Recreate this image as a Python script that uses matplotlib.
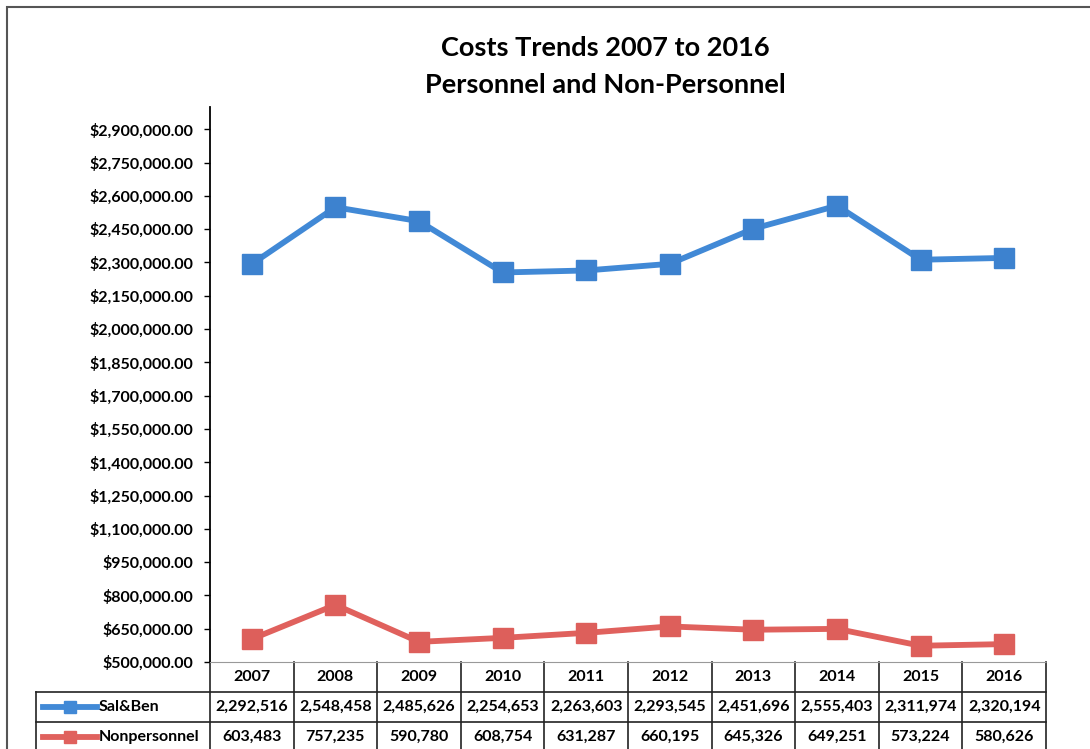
import matplotlib.pyplot as plt
from matplotlib.lines import Line2D
from matplotlib.patches import Rectangle
from matplotlib.ticker import FuncFormatter
import matplotlib.transforms as mtransforms

plt.rcParams["font.family"] = ["Lato", "DejaVu Sans"]
plt.rcParams["font.weight"] = "bold"

years = ["2007", "2008", "2009", "2010", "2011", "2012", "2013", "2014", "2015", "2016"]
sal_ben = [2292516, 2548458, 2485626, 2254653, 2263603, 2293545, 2451696, 2555403, 2311974, 2320194]
nonpersonnel = [603483, 757235, 590780, 608754, 631287, 660195, 645326, 649251, 573224, 580626]
series_names = ["Sal&Ben", "Nonpersonnel"]

blue = "#4189d6"
red = "#e0615d"

W, H = 1090, 749
fig = plt.figure(figsize=(W / 100, H / 100), dpi=100)

# axes placed in pixel terms
ax_l, ax_r, ax_t, ax_b = 210, 1046, 107, 662
ax = fig.add_axes([ax_l / W, 1 - ax_b / H, (ax_r - ax_l) / W, (ax_b - ax_t) / H])

x = list(range(len(years)))
ax.plot(x, sal_ben, color=blue, lw=4.2, marker="s", ms=14, mfc="#3d82cf", mec="#3d82cf")
ax.plot(x, nonpersonnel, color=red, lw=4.2, marker="s", ms=14, mfc="#dd5f5b", mec="#dd5f5b")

ax.set_xlim(-0.5, len(years) - 0.5)
ax.set_ylim(500000, 3000000)
ax.set_yticks(range(500000, 2900001, 150000))
ax.yaxis.set_major_formatter(FuncFormatter(lambda v, p: "${:,.2f}".format(v)))
ax.tick_params(axis="y", direction="out", length=4, width=1, pad=8, labelsize=11.5)
ax.set_xticks([])
for s in ["top", "right"]:
    ax.spines[s].set_visible(False)
ax.spines["left"].set_linewidth(1.3)
ax.spines["bottom"].set_color("#999999")
ax.spines["bottom"].set_linestyle((0, (2, 1)))

# data table under the axes: x in data units, y in pixels below the axes
px_h = ax_b - ax_t
def ypx(py):
    return (ax_b - py) / px_h

trans = mtransforms.blended_transform_factory(ax.transData, ax.transAxes)
row_tops = [662, 692, 722, 752]
col_px = (ax_r - ax_l) / len(years)
lbl_left = -0.5 - (ax_l - 36) / col_px
kw = dict(transform=trans, clip_on=False, color="#222222", lw=1.2)
tfs = 11.5

# header row: year cells
for i, yr in enumerate(years):
    ax.text(i, ypx(677), yr, transform=trans, ha="center", va="center", fontsize=tfs)
for i in range(len(years) + 1):
    ax.add_line(Line2D([i - 0.5, i - 0.5], [ypx(662), ypx(752)], **kw))
# horizontal rules for the data rows
for py in row_tops[1:]:
    ax.add_line(Line2D([lbl_left, len(years) - 0.5], [ypx(py), ypx(py)], **kw))
ax.add_line(Line2D([lbl_left, lbl_left], [ypx(692), ypx(752)], **kw))

colors = [blue, red]
for r, (name, vals) in enumerate(zip(series_names, [sal_ben, nonpersonnel])):
    yc = ypx((row_tops[r + 1] + row_tops[r + 2]) / 2)
    for i, v in enumerate(vals):
        ax.text(i, yc, "{:,}".format(v), transform=trans, ha="center", va="center", fontsize=tfs)
    # legend key in the row label cell
    kx0 = lbl_left + (43 - 36) / col_px
    kx1 = lbl_left + (97 - 36) / col_px
    ax.add_line(Line2D([kx0, kx1], [yc, yc], transform=trans, clip_on=False, color=colors[r], lw=4.2))
    ax.add_line(Line2D([(kx0 + kx1) / 2], [yc], transform=trans, clip_on=False, color=colors[r],
                       marker="s", ms=9, lw=0))
    ax.text(lbl_left + (99 - 36) / col_px, yc, name, transform=trans, ha="left", va="center", fontsize=tfs)

fig.text(605 / W, 1 - 48 / H, "Costs Trends 2007 to 2016", ha="center", va="center", fontsize=19.5, fontweight="bold")
fig.text(605 / W, 1 - 85 / H, "Personnel and Non-Personnel", ha="center", va="center", fontsize=19.5, fontweight="bold")

# outer chart frame
fig.add_artist(Rectangle((7 / W, -0.2), 1.2, 1.2 - 7 / H, transform=fig.transFigure,
                         fill=False, ec="#555555", lw=1.5))

fig.savefig("out.png", dpi=100)
